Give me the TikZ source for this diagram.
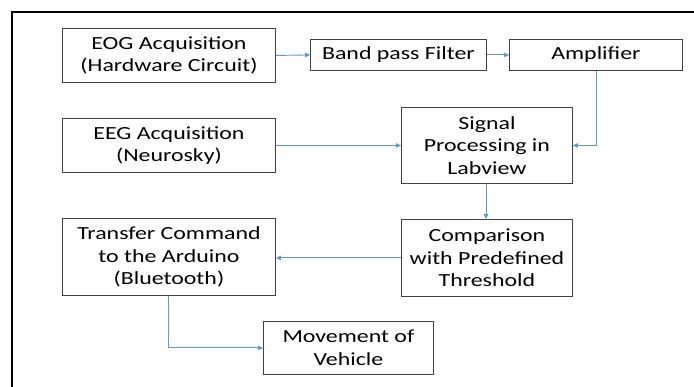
\documentclass[tikz,border=0pt]{standalone}
\usepackage{fontspec}
\setmainfont{Carlito}[FakeStretch=1.29]
\usetikzlibrary{arrows.meta}
\definecolor{arr}{HTML}{5B9BD5}
\definecolor{boxc}{HTML}{404040}
\begin{document}
\begin{tikzpicture}[x=1pt,y=-1pt,
  blk/.style={draw=boxc,line width=0.9pt,inner sep=0pt,anchor=north west,align=center,
    font=\fontsize{18.5}{22.5}\selectfont,text=black},
  conn/.style={draw=arr,line width=0.9pt,-{Triangle[length=5pt,width=4.5pt]}}]
\useasboundingbox (0,0) rectangle (694,387);
\fill[white] (0,0) rectangle (694,387);
\draw[line width=2.6pt] (12,400) -- (12,12) -- (710,12);
\node[blk,minimum width=213pt,minimum height=54pt] (eog) at (62,28) {EOG Acquisition\\(Hardware Circuit)};
\node[blk,minimum width=176pt,minimum height=31pt] (bpf) at (310,39) {Band pass Filter};
\node[blk,minimum width=173pt,minimum height=31pt] (amp) at (509,39) {Amplifier};
\node[blk,minimum width=213pt,minimum height=54pt] (eeg) at (62,118) {EEG Acquisition\\(Neurosky)};
\node[blk,minimum width=171pt,minimum height=76pt] (sp) at (401,107) {Signal\\Processing in\\Labview};
\node[blk,minimum width=171pt,minimum height=77pt] (cmp) at (401,219) {Comparison\\with Predefined\\Threshold};
\node[blk,minimum width=213pt,minimum height=77pt] (tr) at (62,218) {Transfer Command\\to the Arduino\\(Bluetooth)};
\node[blk,minimum width=170pt,minimum height=53pt] (mov) at (263,321) {Movement of\\Vehicle};
\draw[conn] (eog.east) -- (bpf.west);
\draw[conn] (bpf.east) -- (amp.west);
\draw[conn] (amp.south -| 596,0) |- (sp.east);
\draw[conn] (eeg.east) -- (eeg.east -| sp.west);
\draw[conn] (sp.south -| 486,0) -- (cmp.north -| 486,0);
\draw[conn] (cmp.west) -- (cmp.west -| tr.east);
\draw[conn] (tr.south -| 168,0) |- (mov.west);
\end{tikzpicture}
\end{document}
